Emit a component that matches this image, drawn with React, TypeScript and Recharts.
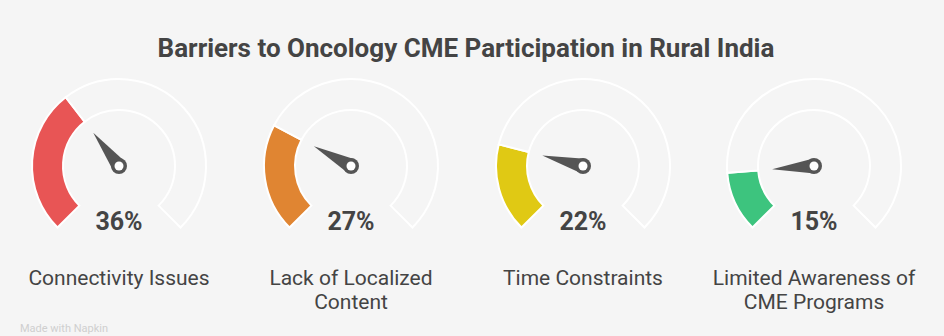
import React from 'react';
import { PieChart, Pie, Cell } from 'recharts';

const categories = [
  ['Connectivity Issues'],
  ['Lack of Localized', 'Content'],
  ['Time Constraints'],
  ['Limited Awareness of', 'CME Programs'],
];
const percents = [36, 27, 22, 15];
const colors = ['#E85555', '#E08532', '#E0C914', '#3DC47E'];
const centers = [119, 351, 583, 814];

const RAD = Math.PI / 180;
const BG = '#f5f5f5';

const polar = (cx: number, cy: number, r: number, angle: number) => ({
  x: cx + r * Math.cos(-angle * RAD),
  y: cy + r * Math.sin(-angle * RAD),
});

// needle + value text, drawn off the value sector's geometry
const renderNeedle = (props: any) => {
  const { cx, cy, endAngle, index, payload } = props;
  if (index !== 0) return null;
  const tip = polar(cx, cy, 42, endAngle);
  const left = polar(cx, cy, 7.5, endAngle + 90);
  const right = polar(cx, cy, 7.5, endAngle - 90);
  return (
    <g>
      <path d={`M${tip.x},${tip.y} L${left.x},${left.y} L${right.x},${right.y} Z`} fill="#555" />
      <circle cx={cx} cy={cy} r={8} fill="#555" />
      <circle cx={cx} cy={cy} r={4.5} fill="#fff" />
      <text
        x={cx}
        y={cy + 64}
        textAnchor="middle"
        fill="#444"
        style={{ fontFamily: 'Roboto', fontWeight: 700, fontSize: 25 }}
      >
        {payload.value}%
      </text>
    </g>
  );
};

const Gauge: React.FC<any> = ({ value, color, center, label }) => {
  const data = [{ name: 'value', value }, { name: 'rest', value: 100 - value }];
  return (
    <>
      <div style={{ position: 'absolute', left: center - 116, top: 0 }}>
        <PieChart width={232} height={250} margin={{ top: 0, right: 0, bottom: 0, left: 0 }}>
          <Pie
            data={data}
            dataKey="value"
            cx={116}
            cy={166}
            startAngle={225}
            endAngle={-45}
            innerRadius={56}
            outerRadius={87}
            stroke="#fff"
            strokeWidth={2}
            label={renderNeedle}
            labelLine={false}
            isAnimationActive={false}
          >
            <Cell fill={color} />
            <Cell fill={BG} />
          </Pie>
        </PieChart>
      </div>
      <div
        style={{
          position: 'absolute',
          left: center - 126,
          top: 266,
          width: 252,
          textAlign: 'center',
          fontFamily: 'Roboto',
          fontSize: 21,
          lineHeight: '24px',
          color: '#444',
        }}
      >
        {label.map((l: string) => (
          <div key={l}>{l}</div>
        ))}
      </div>
    </>
  );
};

export default function App() {
  return (
    <div
      style={{
        position: 'absolute',
        left: 0,
        top: 0,
        width: 944,
        height: 336,
        background: BG,
        overflow: 'hidden',
      }}
    >
      <div
        style={{
          position: 'absolute',
          left: -6,
          top: 33,
          width: 944,
          textAlign: 'center',
          fontFamily: 'Roboto',
          fontWeight: 700,
          fontSize: 26,
          lineHeight: '30px',
          color: '#444',
        }}
      >
        Barriers to Oncology CME Participation in Rural India
      </div>
      {percents.map((p, i) => (
        <Gauge key={i} value={p} color={colors[i]} center={centers[i]} label={categories[i]} />
      ))}
      <div
        style={{
          position: 'absolute',
          left: 20,
          top: 322,
          fontFamily: 'Roboto',
          fontSize: 11,
          lineHeight: '13px',
          color: '#cfcfcf',
        }}
      >
        Made with Napkin
      </div>
    </div>
  );
}
